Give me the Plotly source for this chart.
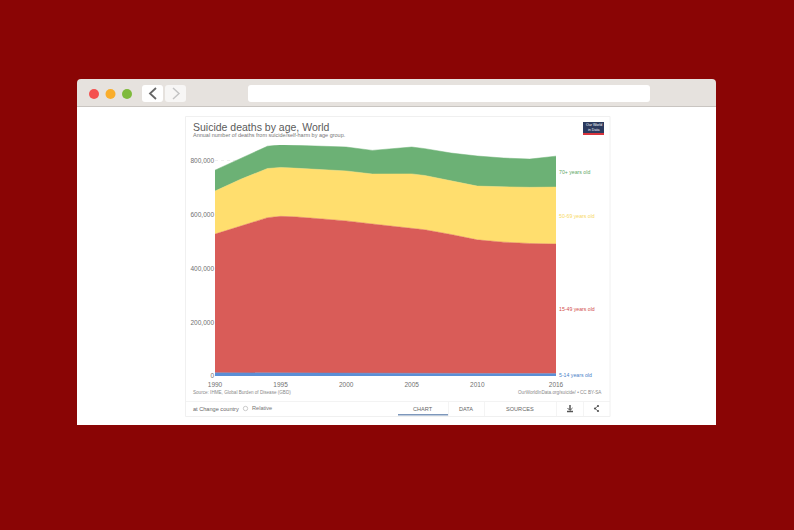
import plotly.graph_objects as go

W = 794
H = 530

years = [1990, 1992, 1994, 1995, 1996, 1998, 2000, 2002, 2004, 2005, 2006, 2008, 2010, 2012, 2014, 2016]
age_5_14 = [12000, 12000, 12000, 12000, 11500, 11000, 11000, 10500, 10000, 10000, 10000, 9500, 9500, 9000, 9000, 9000]
age_15_49 = [516000, 546000, 577000, 582000, 581000, 574000, 566000, 555000, 546000, 541000, 534000, 517000, 497000, 489000, 484000, 482000]
age_50_69 = [160000, 175000, 183000, 182000, 181000, 184000, 186000, 186000, 196000, 201000, 202000, 200000, 200000, 206000, 209000, 212000]
age_70 = [78000, 76000, 83000, 84000, 85000, 88000, 89000, 88000, 97000, 100000, 100000, 103000, 112000, 107000, 105000, 115000]

names = ["5-14 years old", "15-49 years old", "50-69 years old", "70+ years old"]
colors = ["#5b8fd6", "#d95c58", "#ffde6e", "#6cb175"]
label_colors = ["#4a7fc8", "#d2504c", "#f7d964", "#5fa869"]
series = [age_5_14, age_15_49, age_50_69, age_70]

y_ticks = [0, 200000, 400000, 600000, 800000]
x_ticks = [1990, 1995, 2000, 2005, 2010, 2016]


def px(x):
    return x / W


def py(y):
    return 1 - y / H


def box(x0, y0, x1, y1, fill, line="rgba(0,0,0,0)", width=0):
    return dict(type="rect", xref="paper", yref="paper", x0=px(x0), x1=px(x1), y0=py(y0), y1=py(y1),
                fillcolor=fill, line=dict(color=line, width=width), layer="below")


def rounded(x0, y0, x1, y1, r, fill):
    # rectangle with round corners, in paper coordinates
    p = "M %f %f L %f %f Q %f %f %f %f L %f %f Q %f %f %f %f L %f %f Q %f %f %f %f L %f %f Q %f %f %f %f Z" % (
        px(x0 + r), py(y0), px(x1 - r), py(y0), px(x1), py(y0), px(x1), py(y0 + r),
        px(x1), py(y1 - r), px(x1), py(y1), px(x1 - r), py(y1),
        px(x0 + r), py(y1), px(x0), py(y1), px(x0), py(y1 - r),
        px(x0), py(y0 + r), px(x0), py(y0), px(x0 + r), py(y0))
    return dict(type="path", xref="paper", yref="paper", path=p, fillcolor=fill, line=dict(width=0), layer="below")


def circle(cx, cy, r, fill, line="rgba(0,0,0,0)", width=0):
    return dict(type="circle", xref="paper", yref="paper", x0=px(cx - r), x1=px(cx + r), y0=py(cy + r), y1=py(cy - r),
                fillcolor=fill, line=dict(color=line, width=width), layer="below")


def stroke(points, color, width=1.5):
    p = "M " + " L ".join("%f %f" % (px(a), py(b)) for a, b in points)
    return dict(type="path", xref="paper", yref="paper", path=p, line=dict(color=color, width=width), layer="above")


def text(x, y, s, size, color, anchor="left"):
    return dict(xref="paper", yref="paper", x=px(x), y=py(y), text=s, showarrow=False, xanchor=anchor, yanchor="middle",
                font=dict(family="Liberation Sans", size=size, color=color))


fig = go.Figure()
for name, vals, col in zip(names, series, colors):
    fig.add_trace(go.Scatter(x=years, y=vals, name=name, mode="lines", stackgroup="one",
                             line=dict(color=col, width=0.5), fillcolor=col, hoverinfo="skip"))

shapes = [
    rounded(77, 79, 716, 120, 4, "#e6e2de"),
    box(77, 106, 716, 425, "#ffffff"),
    box(77, 106, 716, 107, "#c9c5c1"),
    circle(94, 94, 5, "#f4504f"),
    circle(110.5, 94, 5, "#f9ad2b"),
    circle(127, 94, 5, "#7fba3c"),
    rounded(142, 85, 163, 102, 3, "#ffffff"),
    rounded(165, 85, 186, 102, 3, "#f7f6f5"),
    rounded(248, 85, 650, 102, 3, "#ffffff"),
    box(185.5, 116.5, 610, 416.5, "#ffffff", "#f0f0f0", 1),
    box(583, 122, 604, 133, "#2c3a5e"),
    box(583, 133, 604, 135, "#d8343c"),
    box(186, 401, 610, 401.8, "#efefef"),
    box(398, 414, 448, 415.5, "#7d97bb"),
    box(448, 402, 448.7, 416, "#f0f0f0"),
    box(484, 402, 484.7, 416, "#f0f0f0"),
    box(556, 402, 556.7, 416, "#f0f0f0"),
    box(583, 402, 583.7, 416, "#f0f0f0"),
    circle(245.5, 408.5, 2.2, "#ffffff", "#aaaaaa", 0.6),
    stroke([(156, 88), (150, 93.5), (156, 99)], "#666666", 1.8),
    stroke([(173, 88), (179, 93.5), (173, 99)], "#c4c4c4", 1.5),
    # download icon
    stroke([(570, 405), (570, 410)], "#555555", 1.5),
    stroke([(567.5, 408), (570, 410.5), (572.5, 408)], "#555555", 1),
    stroke([(567, 411.5), (573, 411.5)], "#555555", 1.5),
    # share icon
    stroke([(598, 406), (595, 408.5), (598, 411)], "#555555", 0.8),
    circle(598, 406, 1.1, "#555555"),
    circle(595, 408.5, 1.1, "#555555"),
    circle(598, 411, 1.1, "#555555"),
]

annotations = [
    text(191, 127, "Suicide deaths by age, World", 10.5, "#5b5b5b"),
    text(191, 134.5, "Annual number of deaths from suicide/self-harm by age group.", 5.5, "#777777"),
    text(593.5, 125, "Our World", 3.6, "#ffffff", "center"),
    text(593.5, 130, "in Data", 3.6, "#ffffff", "center"),
    text(191, 392.5, "Source: IHME, Global Burden of Disease (GBD)", 4.6, "#8a8a8a"),
    text(604, 392.5, "OurWorldInData.org/suicide/ • CC BY-SA", 4.6, "#8a8a8a", "right"),
    text(191, 408.5, "at Change country", 5.6, "#666666"),
    text(250, 408, "Relative", 5.6, "#777777"),
    text(423, 408.5, "CHART", 5.6, "#666666", "center"),
    text(466, 408.5, "DATA", 5.6, "#666666", "center"),
    text(520, 408.5, "SOURCES", 5.6, "#666666", "center"),
]

# series labels sit at the middle of each band at the last year
base = 0
for name, vals, col in zip(names, series, label_colors):
    annotations.append(dict(xref="x", yref="y", x=years[-1], y=base + vals[-1] / 2, text=name, showarrow=False,
                            xanchor="left", yanchor="middle", xshift=1,
                            font=dict(family="Liberation Sans", size=5.2, color=col)))
    base += vals[-1]

fig.update_layout(
    width=W,
    height=H,
    margin=dict(l=0, r=0, t=0, b=0),
    paper_bgcolor="#8a0505",
    plot_bgcolor="rgba(0,0,0,0)",
    showlegend=False,
    shapes=shapes,
    annotations=annotations,
    font=dict(family="Liberation Sans"),
    xaxis=dict(domain=[px(215), px(556)], range=[1990, 2016], tickvals=x_ticks, showgrid=False, zeroline=False,
               ticks="", showline=False, automargin=False, tickfont=dict(size=6.5, color="#707070"), ticklabelstandoff=3),
    yaxis=dict(domain=[py(376), py(145)], range=[0, 859500], tickvals=y_ticks, tickformat=",", showgrid=True,
               gridcolor="#eeeeee", griddash="dot", gridwidth=0.6, zeroline=False, ticks="", showline=False,
               automargin=False, tickfont=dict(size=6.5, color="#707070")),
)

# the browser's default body margin would shift the figure
fig.write_html("out.html", config=dict(displayModeBar=False), post_script="document.body.style.margin = '0';")
